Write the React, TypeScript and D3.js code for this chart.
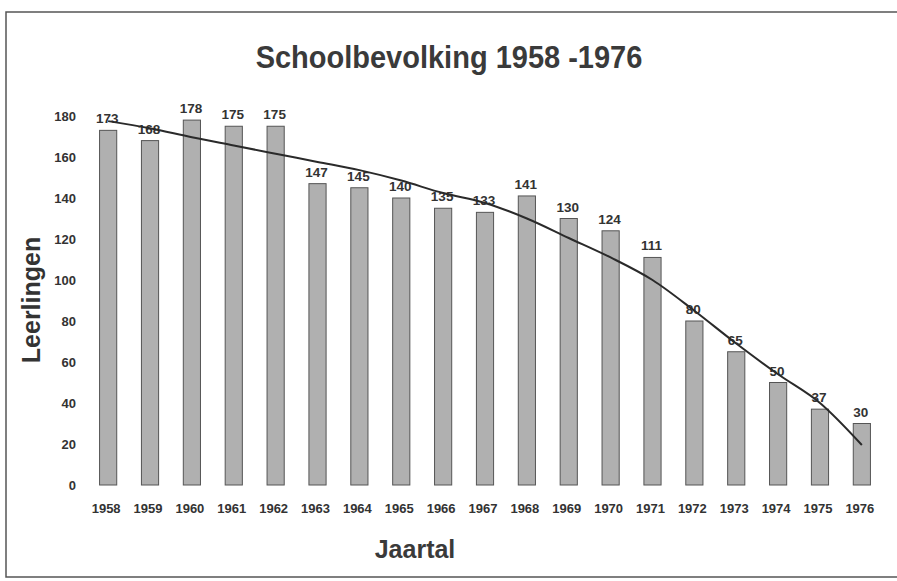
import React from "react";
import * as d3 from "d3";

const years = ["1958","1959","1960","1961","1962","1963","1964","1965","1966","1967","1968","1969","1970","1971","1972","1973","1974","1975","1976"];
const pupils = [173,168,178,175,175,147,145,140,135,133,141,130,124,111,80,65,50,37,30];
const trend = [177.5,174,169.6,165.6,161.6,157.6,153.6,148.5,142.4,137.6,130,120.5,111,100,85,69,54,40,19.5];
const yTicks = [0,20,40,60,80,100,120,140,160,180];

const W = 897, H = 581;
const FONT = "'Liberation Sans', Arial, sans-serif";

export default function App() {
  const x = d3.scaleBand<string>().domain(years).range([87, 883]).paddingInner(0.59).paddingOuter(0.3);
  const y = d3.scaleLinear().domain([0, 180]).range([485, 116]);
  const cx = (yr: string) => (x(yr) as number) + x.bandwidth() / 2;
  const line = d3.line<number>()
    .x((_, i) => cx(years[i]))
    .y((d) => y(d))
    .curve(d3.curveMonotoneX);

  return (
    <svg width={W} height={H} style={{ position: "absolute", left: 0, top: 0, background: "#fff" }}>
      <rect x={6} y={12} width={W + 10} height={565} fill="#fff" stroke="#555" strokeWidth={1.5} />
      <text x={449} y={68} textAnchor="middle" fontFamily={FONT} fontWeight="bold" fontSize={29} fill="#3a3a3a"
        transform="translate(449,68) scale(1,1.05) translate(-449,-68)">
        Schoolbevolking 1958 -1976
      </text>
      {yTicks.map((t) => (
        <text key={t} x={76} y={y(t) + 5} textAnchor="end" fontFamily={FONT} fontWeight="bold" fontSize={13} fill="#333">
          {t}
        </text>
      ))}
      <text transform={`translate(40,${300}) rotate(-90)`} textAnchor="middle" fontFamily={FONT} fontWeight="bold" fontSize={25} fill="#333">
        Leerlingen
      </text>
      {years.map((yr, i) => (
        <g key={yr}>
          <rect x={x(yr)} y={y(pupils[i])} width={x.bandwidth()} height={y(0) - y(pupils[i])}
            fill="#b0b0b0" stroke="#555" strokeWidth={1} />
          <text x={cx(yr) - 1} y={y(pupils[i]) - 7} textAnchor="middle" fontFamily={FONT} fontWeight="bold" fontSize={13.5} fill="#333">
            {pupils[i]}
          </text>
          <text x={cx(yr) - 2} y={513} textAnchor="middle" fontFamily={FONT} fontWeight="bold" fontSize={13} fill="#333">
            {yr}
          </text>
        </g>
      ))}
      <path d={line(trend) || ""} fill="none" stroke="#2a2a2a" strokeWidth={2} />
      <text x={415} y={558} textAnchor="middle" fontFamily={FONT} fontWeight="bold" fontSize={25} fill="#3a3a3a">
        Jaartal
      </text>
    </svg>
  );
}
